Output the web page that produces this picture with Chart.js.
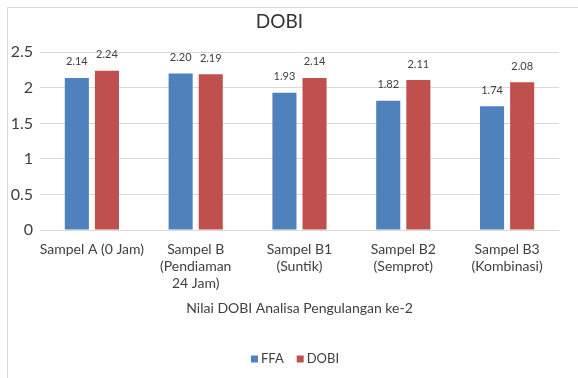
<!DOCTYPE html>
<html>
<head>
<meta charset="utf-8">
<script src="https://cdn.jsdelivr.net/npm/chart.js@4"></script>
<style>
  html, body { margin: 0; padding: 0; background: #fff; }
  #wrap { width: 578px; height: 378px; position: relative; }
</style>
</head>
<body>
<div id="wrap"><canvas id="dobiChart" width="578" height="378"></canvas></div>
<script>
const categories = [
    ['Sampel A (0 Jam)'],
    ['Sampel B', '(Pendiaman', '24 Jam)'],
    ['Sampel B1', '(Suntik)'],
    ['Sampel B2', '(Semprot)'],
    ['Sampel B3', '(Kombinasi)']
];
const ffaValues = [2.14, 2.20, 1.93, 1.82, 1.74];
const dobiValues = [2.24, 2.19, 2.14, 2.11, 2.08];
const yTicks = [0, 0.5, 1, 1.5, 2, 2.5];

const fontFamily = 'Lato, "Open Sans", sans-serif';
const textColor = '#404040';

// light grey frame round the chart, like the office chart box
const framePlugin = {
    id: 'frame',
    beforeDraw(chart) {
        const c = chart.ctx;
        c.save();
        c.fillStyle = '#fff';
        c.fillRect(0, 0, chart.width, chart.height);
        c.strokeStyle = '#d9d9d9';
        c.lineWidth = 1;
        c.strokeRect(7.5, 7.5, 640, 420);
        c.restore();
    }
};

// value labels above each bar
const valueLabels = {
    id: 'valueLabels',
    afterDatasetsDraw(chart) {
        const c = chart.ctx;
        c.save();
        c.font = '11px ' + fontFamily;
        c.fillStyle = textColor;
        c.textAlign = 'center';
        c.textBaseline = 'middle';
        chart.data.datasets.forEach((ds, i) => {
            chart.getDatasetMeta(i).data.forEach((bar, j) => {
                c.fillText(ds.data[j].toFixed(2), bar.x, bar.y - 16);
            });
        });
        c.restore();
    }
};

// small legend under the axis title: square, short gap, name
const bottomLegend = {
    id: 'bottomLegend',
    afterDraw(chart) {
        const c = chart.ctx;
        const box = 7, gap = 3, spacing = 13, cy = 359;
        c.save();
        c.font = '13px ' + fontFamily;
        c.textBaseline = 'middle';
        const items = chart.data.datasets.map(ds => ({ text: ds.label, color: ds.backgroundColor }));
        const total = items.reduce((s, it) => s + box + gap + c.measureText(it.text).width, 0) + spacing * (items.length - 1);
        let x = 295 - total / 2;
        items.forEach(it => {
            c.fillStyle = it.color;
            c.fillRect(x, cy - box / 2, box, box);
            x += box + gap;
            c.fillStyle = textColor;
            c.fillText(it.text, x, cy);
            x += c.measureText(it.text).width + spacing;
        });
        c.restore();
    }
};

new Chart(document.getElementById('dobiChart'), {
    type: 'bar',
    data: {
        labels: categories,
        datasets: [
            { label: 'FFA', data: ffaValues, backgroundColor: '#4f81bd' },
            { label: 'DOBI', data: dobiValues, backgroundColor: '#c0504d' }
        ]
    },
    options: {
        responsive: false,
        animation: false,
        devicePixelRatio: 1,
        categoryPercentage: 0.58,
        barPercentage: 0.8,
        layout: { padding: { left: 0, right: 19, top: 0, bottom: 4 } },
        plugins: {
            title: {
                display: true,
                text: 'DOBI',
                color: '#333',
                font: { family: fontFamily, size: 19, weight: 'normal' },
                padding: { top: 10, bottom: 19.5 }
            },
            legend: { display: false },
            tooltip: { enabled: false }
        },
        scales: {
            x: {
                grid: { display: false, drawTicks: false },
                border: { display: false },
                ticks: {
                    color: textColor,
                    font: { family: fontFamily, size: 14, lineHeight: 1.2 },
                    padding: 11,
                    maxRotation: 0,
                    autoSkip: false
                },
                title: {
                    display: true,
                    text: 'Nilai DOBI Analisa Pengulangan ke-2',
                    color: textColor,
                    font: { family: fontFamily, size: 14, lineHeight: 1.2 },
                    padding: { top: 0, bottom: 57 }
                },
                afterFit(scale) { scale.height = 144; }
            },
            y: {
                min: yTicks[0],
                max: yTicks[yTicks.length - 1],
                grid: { color: '#d9d9d9', drawTicks: false },
                border: { display: false },
                afterBuildTicks(scale) { scale.ticks = yTicks.map(v => ({ value: v })); },
                ticks: {
                    color: textColor,
                    font: { family: fontFamily, size: 16 },
                    padding: 7,
                    callback: v => String(v)
                },
                afterFit(scale) { scale.width = 40; }
            }
        }
    },
    plugins: [framePlugin, valueLabels, bottomLegend]
});
</script>
</body>
</html>
